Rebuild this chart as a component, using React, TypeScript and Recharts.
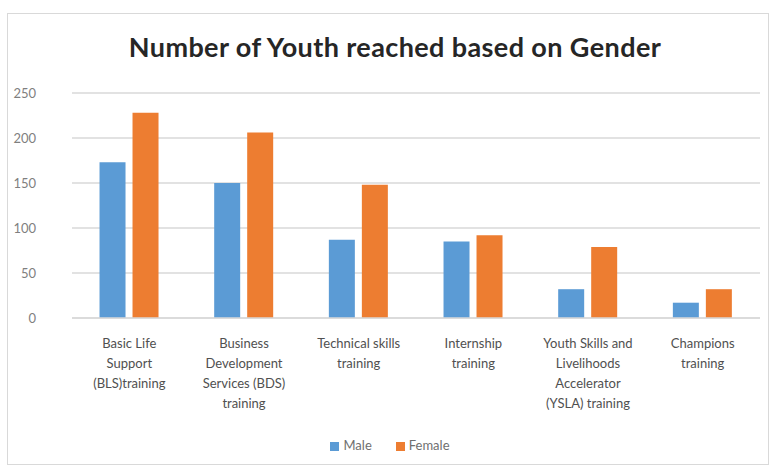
import React from "react";
import { BarChart, Bar, XAxis, YAxis, CartesianGrid, Legend } from "recharts";

const CATEGORIES = [
  "Basic Life Support (BLS)training",
  "Business Development Services (BDS) training",
  "Technical skills training",
  "Internship training",
  "Youth Skills and Livelihoods Accelerator (YSLA) training",
  "Champions training",
];

// how each category label wraps under the axis
const CATEGORY_LINES: string[][] = [
  ["Basic Life", "Support", "(BLS)training"],
  ["Business", "Development", "Services (BDS)", "training"],
  ["Technical skills", "training"],
  ["Internship", "training"],
  ["Youth Skills and", "Livelihoods", "Accelerator", "(YSLA) training"],
  ["Champions", "training"],
];

const SERIES = ["Male", "Female"];
const MALE = [173, 150, 87, 85, 32, 17];
const FEMALE = [228, 206, 148, 92, 79, 32];
const Y_TICKS = [0, 50, 100, 150, 200, 250];

const data = CATEGORIES.map((name, i) => ({
  name,
  Male: MALE[i],
  Female: FEMALE[i],
}));

const FONT = "Lato, 'Open Sans', sans-serif";

const CategoryTick = (props: any) => {
  const { x, y, index } = props;
  const lines = CATEGORY_LINES[index] || [];
  return (
    <g transform={`translate(${x},${y})`}>
      {lines.map((l, i) => (
        <text
          key={i}
          x={0}
          y={22 + i * 20}
          textAnchor="middle"
          fill="#505050"
          fontSize={13}
          fontFamily={FONT}
        >
          {l}
        </text>
      ))}
    </g>
  );
};

export default function App() {
  return (
    <div style={{ position: "absolute", left: 0, top: 0, width: 774, height: 469, background: "#fff" }}>
      <div
        style={{
          position: "absolute",
          left: 7,
          top: 13,
          width: 762,
          height: 452,
          border: "1px solid #d9d9d9",
          boxSizing: "border-box",
        }}
      />
      <div
        style={{
          position: "absolute",
          left: 0,
          top: 32,
          width: 790,
          textAlign: "center",
          fontFamily: FONT,
          fontWeight: 700,
          fontSize: 27,
          letterSpacing: 0.4,
          color: "#262626",
          lineHeight: "30px",
        }}
      >
        Number of Youth reached based on Gender
      </div>
      <BarChart
        width={774}
        height={469}
        data={data}
        margin={{ top: 93, right: 14, bottom: 31, left: 8 }}
        barCategoryGap="24%"
        barGap={7}
        style={{ position: "absolute", left: 0, top: 0 }}
      >
        <CartesianGrid vertical={false} stroke="#d9d9d9" strokeWidth={1.5} />
        <XAxis
          dataKey="name"
          height={120}
          interval={0}
          axisLine={{ stroke: "#d9d9d9", strokeWidth: 1.5 }}
          tickLine={false}
          tick={<CategoryTick />}
        />
        <YAxis
          width={64}
          domain={[0, 250]}
          ticks={Y_TICKS}
          axisLine={false}
          tickLine={false}
          tickMargin={30}
          tick={{ fill: "#7f7f7f", fontSize: 13, fontFamily: FONT }}
        />
        <Legend
          verticalAlign="middle"
          align="center"
          iconType="square"
          iconSize={9}
          itemSorter={(item: any) => SERIES.indexOf(item.value)}
          wrapperStyle={{ top: 437, left: 0, width: 790, fontFamily: FONT, fontSize: 13 }}
          formatter={(v: string) => (
            <span style={{ color: "#6f6f6f", paddingRight: v === "Male" ? 14 : 0 }}>{v}</span>
          )}
        />
        <Bar dataKey="Male" fill="#5B9BD5" isAnimationActive={false} />
        <Bar dataKey="Female" fill="#ED7D31" isAnimationActive={false} />
      </BarChart>
    </div>
  );
}
